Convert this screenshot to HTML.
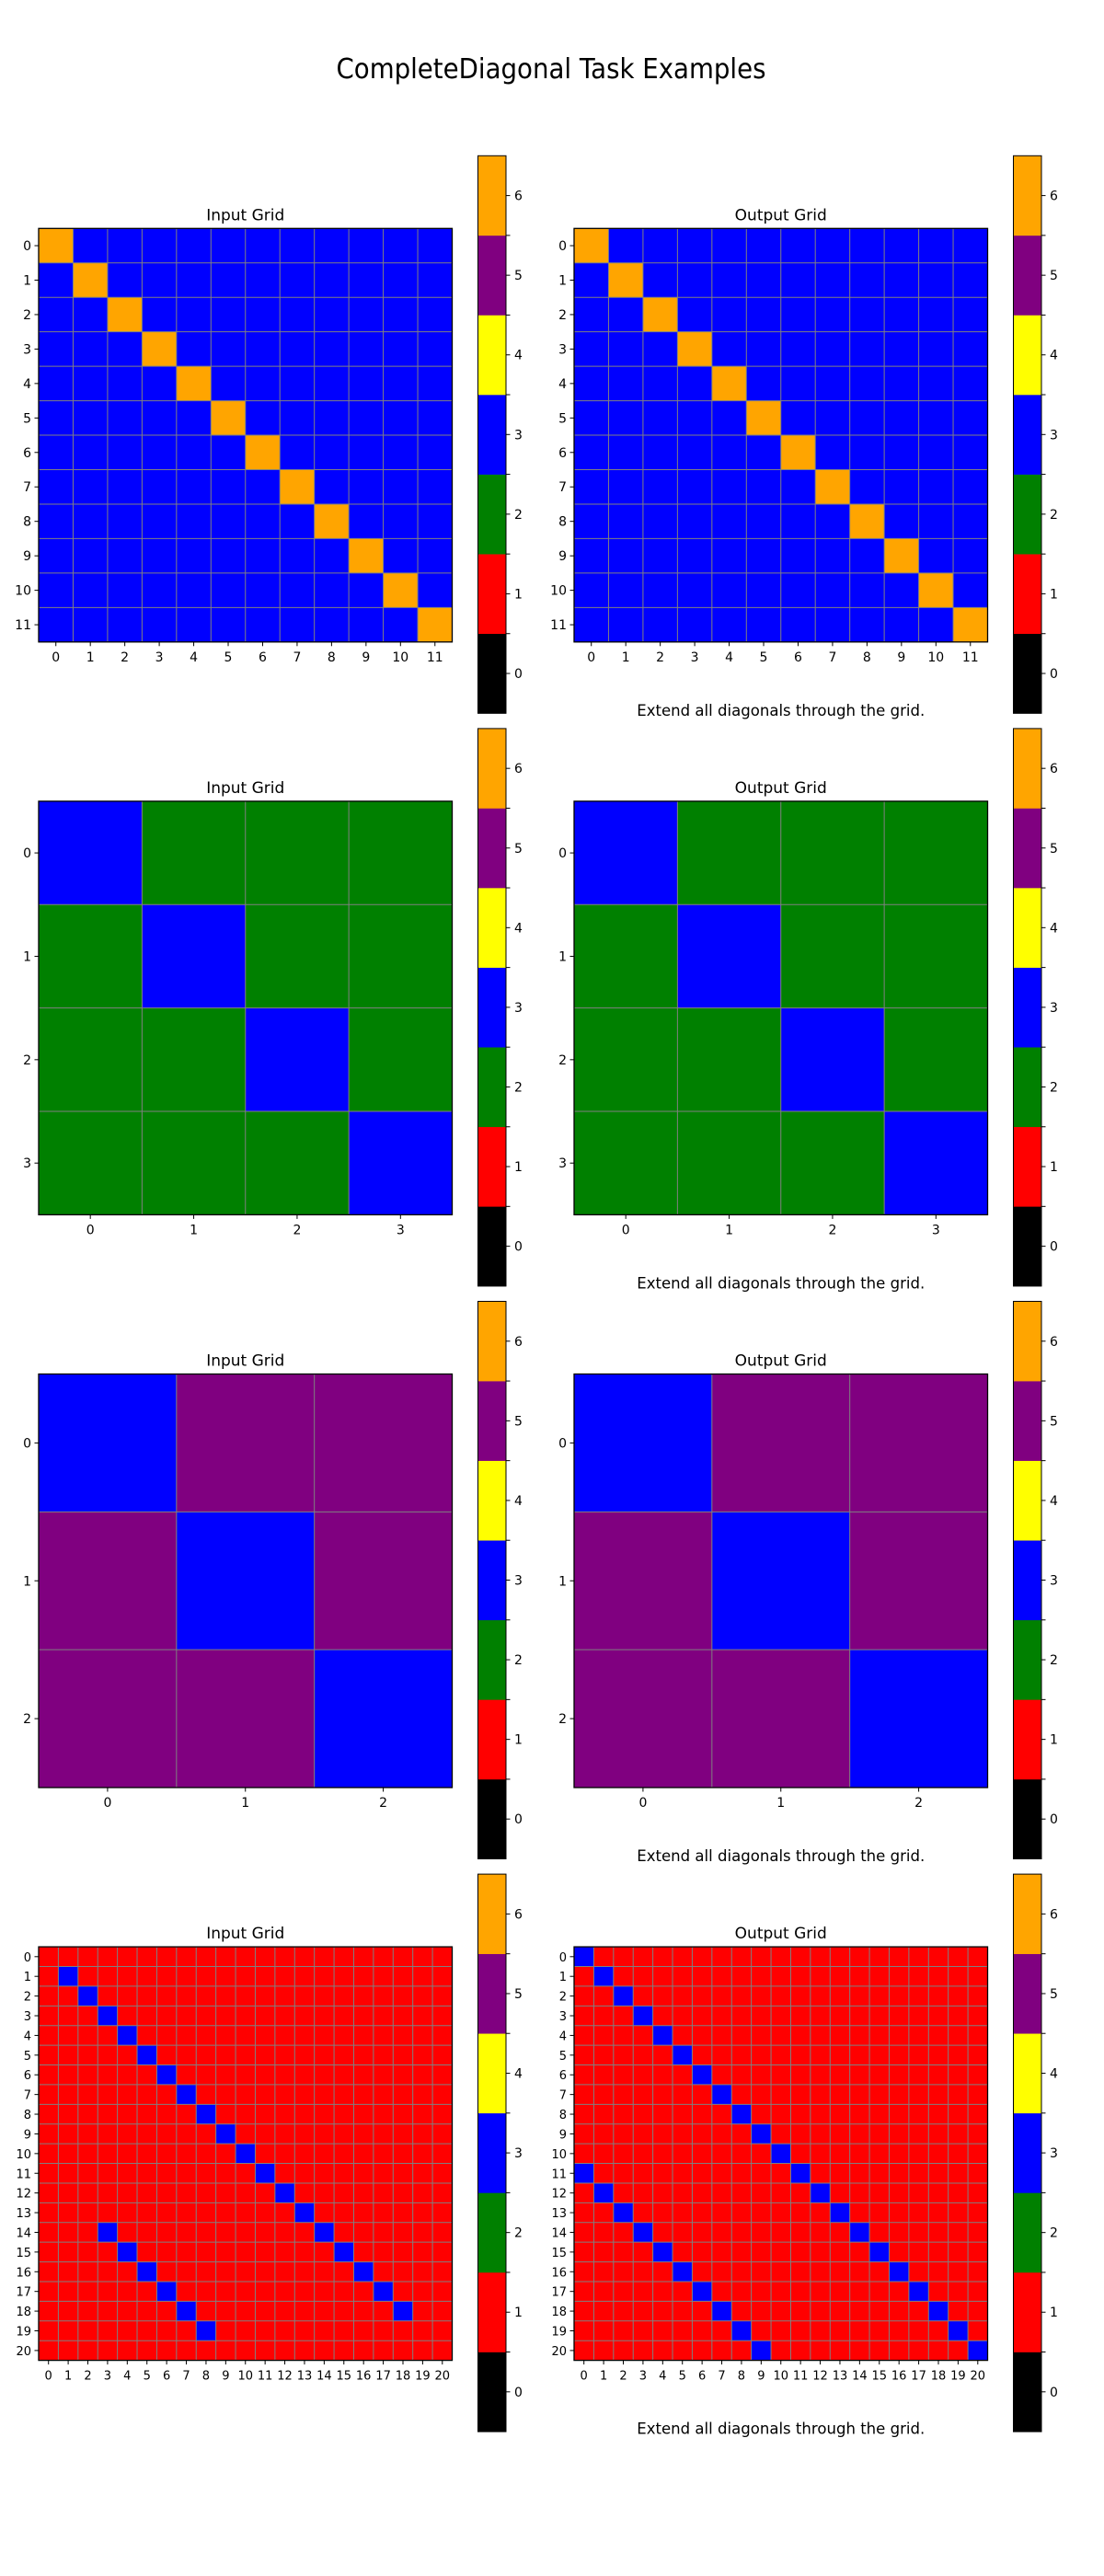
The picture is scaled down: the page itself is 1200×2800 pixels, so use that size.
<!DOCTYPE html>
<html><head><meta charset="utf-8"><style>
html,body{margin:0;padding:0;background:#fff;}
svg{display:block;font-family:"DejaVu Sans","Liberation Sans",sans-serif;}
</style></head><body>
<svg id="fig" width="1200" height="2800" viewBox="0 0 1200 2800">
<text x="599" y="85" font-size="30" text-anchor="middle" textLength="467" lengthAdjust="spacingAndGlyphs">CompleteDiagonal Task Examples</text>
</svg>
<script>
const palette = ["#000000","#ff0000","#008000","#0000ff","#ffff00","#800080","#ffa500"];
const cbTicks = [0,1,2,3,4,5,6];
const caption = "Extend all diagonals through the grid.";
const in1 = [[6,3,3,3,3,3,3,3,3,3,3,3],[3,6,3,3,3,3,3,3,3,3,3,3],[3,3,6,3,3,3,3,3,3,3,3,3],[3,3,3,6,3,3,3,3,3,3,3,3],[3,3,3,3,6,3,3,3,3,3,3,3],[3,3,3,3,3,6,3,3,3,3,3,3],[3,3,3,3,3,3,6,3,3,3,3,3],[3,3,3,3,3,3,3,6,3,3,3,3],[3,3,3,3,3,3,3,3,6,3,3,3],[3,3,3,3,3,3,3,3,3,6,3,3],[3,3,3,3,3,3,3,3,3,3,6,3],[3,3,3,3,3,3,3,3,3,3,3,6]];
const out1 = in1.map(r=>r.slice());
const in2 = [[3,2,2,2],[2,3,2,2],[2,2,3,2],[2,2,2,3]];
const out2 = [[3,2,2,2],[2,3,2,2],[2,2,3,2],[2,2,2,3]];
const in3 = [[3,5,5],[5,3,5],[5,5,3]];
const out3 = [[3,5,5],[5,3,5],[5,5,3]];
// 21x21 red grids; blue cells listed as [row, col]
const in4Size = 21, in4Bg = 1;
const in4Blue = [[1,1],[2,2],[3,3],[4,4],[5,5],[6,6],[7,7],[8,8],[9,9],[10,10],[11,11],[12,12],[13,13],[14,14],[15,15],[16,16],[17,17],[18,18],[14,3],[15,4],[16,5],[17,6],[18,7],[19,8]];
const out4Blue = [[0,0],[1,1],[2,2],[3,3],[4,4],[5,5],[6,6],[7,7],[8,8],[9,9],[10,10],[11,11],[12,12],[13,13],[14,14],[15,15],[16,16],[17,17],[18,18],[19,19],[20,20],[11,0],[12,1],[13,2],[14,3],[15,4],[16,5],[17,6],[18,7],[19,8],[20,9]];
function buildGrid(n,bg,blues){const g=[];for(let r=0;r<n;r++){g.push(new Array(n).fill(bg));}blues.forEach(p=>{g[p[0]][p[1]]=3;});return g;}
const in4 = buildGrid(in4Size,in4Bg,in4Blue);
const out4 = buildGrid(in4Size,in4Bg,out4Blue);
const rows = [[in1,out1],[in2,out2],[in3,out3],[in4,out4]];

const NS="http://www.w3.org/2000/svg";
const svg=document.getElementById('fig');
function mk(tag,attrs,parent){const e=document.createElementNS(NS,tag);for(const k in attrs)e.setAttribute(k,attrs[k]);(parent||svg).appendChild(e);return e;}

const GRID_SIZE=449.5, ROW0=248.3, ROWSTEP=622.6;
function drawPanel(grid,left,top,titleText,isOut,ri){
  const g=mk('g',{});
  
  
  const n=grid.length, cs=GRID_SIZE/n;
  const xs=c=>left+c*cs, ys=r=>top+r*cs;
  for(let r=0;r<n;r++)for(let c=0;c<n;c++){
    const cell=mk('rect',{x:xs(c),y:ys(r),width:cs+0.3,height:cs+0.3,fill:palette[grid[r][c]]},g);
    
    
  }
  for(let i=1;i<n;i++){
    mk('line',{x1:xs(i),x2:xs(i),y1:top,y2:top+GRID_SIZE,stroke:'#808080','stroke-width':1},g);
    mk('line',{y1:ys(i),y2:ys(i),x1:left,x2:left+GRID_SIZE,stroke:'#808080','stroke-width':1},g);
  }
  mk('rect',{x:left,y:top,width:GRID_SIZE,height:GRID_SIZE,fill:'none',stroke:'#000','stroke-width':1.3},g);
  const fs=n>15?13:14;
  for(let i=0;i<n;i++){
    const cx=xs(i+0.5), cy=ys(i+0.5);
    mk('line',{x1:cx,x2:cx,y1:top+GRID_SIZE,y2:top+GRID_SIZE+4.5,stroke:'#000','stroke-width':1},g);
    const xt=mk('text',{x:cx,y:top+GRID_SIZE+21,'font-size':fs,'text-anchor':'middle'},g);xt.textContent=i;
    
    
    mk('line',{x1:left-4.5,x2:left,y1:cy,y2:cy,stroke:'#000','stroke-width':1},g);
    const yt=mk('text',{x:left-8,y:cy+5,'font-size':fs,'text-anchor':'end'},g);yt.textContent=i;
    
    
  }
  const t=mk('text',{x:left+GRID_SIZE/2,y:top-9,'font-size':17,'text-anchor':'middle'},g);t.textContent=titleText;
  
  
  // colorbar
  const cbx=left+477.5, cby=top-79, cbw=30.5, cbh=606;
  const cb=mk('g',{},g);
  
  
  const seg=cbh/cbTicks.length;
  cbTicks.forEach((v,i)=>{
    const y=cby+cbh-(i+1)*seg;
    mk('rect',{x:cbx,y:y,width:cbw,height:seg+0.3,fill:palette[v]},cb);
    const yc=y+seg/2;
    mk('line',{x1:cbx+cbw,x2:cbx+cbw+4.5,y1:yc,y2:yc,stroke:'#000','stroke-width':1},cb);
    const lt=mk('text',{x:cbx+cbw+9,y:yc+5,'font-size':14},cb);lt.textContent=v;
    
    
  });
  for(let i=1;i<cbTicks.length;i++){const y=cby+i*seg;mk('line',{x1:cbx+cbw,x2:cbx+cbw+4.5,y1:y,y2:y,stroke:'#000','stroke-width':1},cb);}
  mk('rect',{x:cbx,y:cby,width:cbw,height:cbh,fill:'none',stroke:'#000','stroke-width':1},cb);
  if(isOut){
    const cap=mk('text',{x:left+GRID_SIZE/2,y:top+GRID_SIZE+80,'font-size':16.5,'text-anchor':'middle',textLength:313,lengthAdjust:'spacingAndGlyphs'},g);
    cap.textContent=caption;
    
    
  }
}
rows.forEach((pair,ri)=>{
  const top=ROW0+ri*ROWSTEP;
  drawPanel(pair[0],42,top,'Input Grid',false,ri);
  drawPanel(pair[1],624,top,'Output Grid',true,ri);
});
</script>
</body></html>
